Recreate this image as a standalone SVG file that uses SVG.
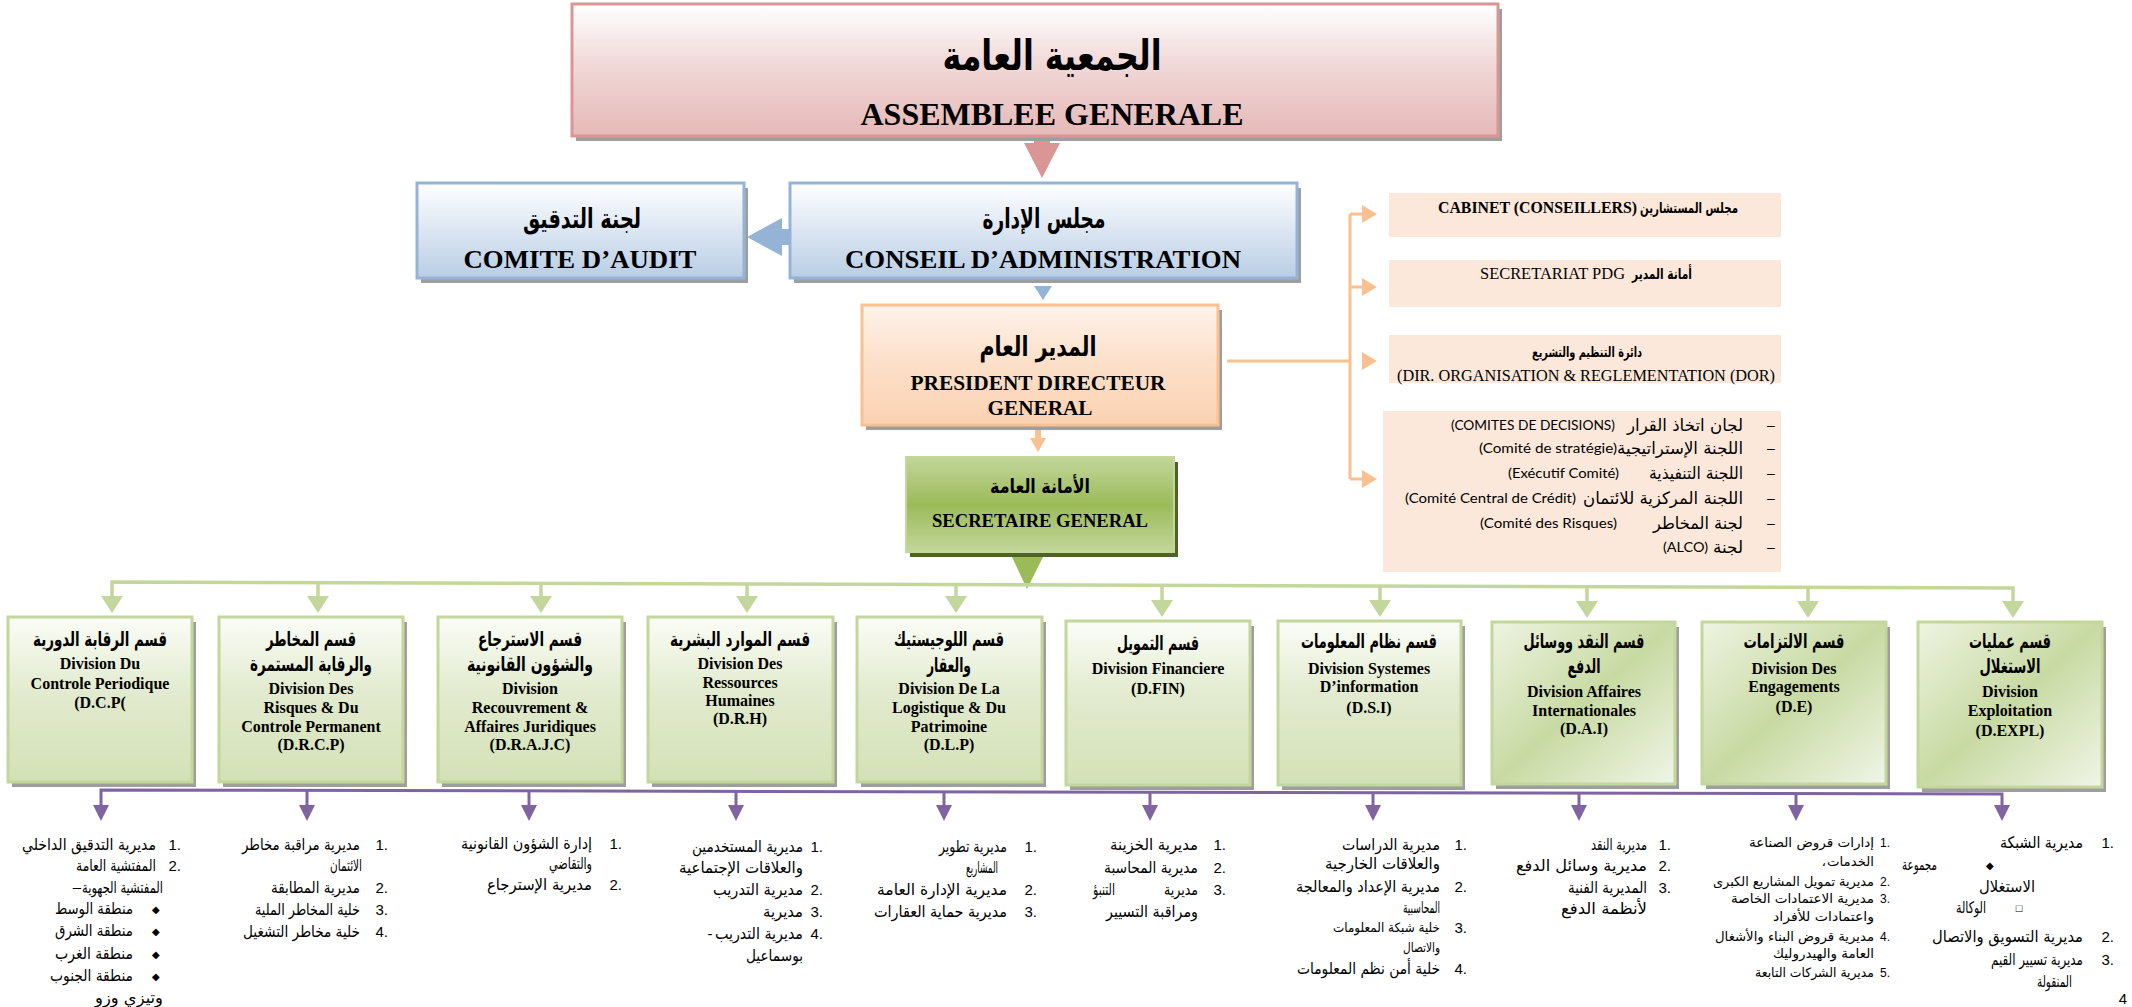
<svg xmlns="http://www.w3.org/2000/svg" width="2132" height="1007" viewBox="0 0 2132 1007">
<defs>
  <linearGradient id="gPink" x1="0" y1="0" x2="0" y2="1">
    <stop offset="0" stop-color="#ffffff"/><stop offset="0.45" stop-color="#f1d9d8"/><stop offset="1" stop-color="#e5b9b7"/>
  </linearGradient>
  <linearGradient id="gBlue" x1="0" y1="0" x2="0" y2="1">
    <stop offset="0" stop-color="#ffffff"/><stop offset="0.5" stop-color="#dce6f2"/><stop offset="1" stop-color="#b9cde5"/>
  </linearGradient>
  <linearGradient id="gPeach" x1="0" y1="0" x2="0" y2="1">
    <stop offset="0" stop-color="#fef2ea"/><stop offset="0.5" stop-color="#fcdfc8"/><stop offset="1" stop-color="#fbd2b2"/>
  </linearGradient>
  <linearGradient id="gSG" x1="0" y1="0" x2="0" y2="1">
    <stop offset="0" stop-color="#c3d69b"/><stop offset="0.5" stop-color="#9bbb59"/><stop offset="1" stop-color="#c3d69b"/>
  </linearGradient>
  <linearGradient id="gDiv" x1="0" y1="0" x2="0" y2="1">
    <stop offset="0" stop-color="#fbfdf7"/><stop offset="0.45" stop-color="#e2ebcf"/><stop offset="1" stop-color="#d3e1b6"/>
  </linearGradient>
  <linearGradient id="gDiv2" x1="0" y1="0" x2="1" y2="1">
    <stop offset="0" stop-color="#eef4e2"/><stop offset="0.5" stop-color="#c8daa3"/><stop offset="1" stop-color="#f0f5e7"/>
  </linearGradient>
  <style>
    .shadow { fill: #9e9e9e; }
    .ar { font-family: "DejaVu Sans", sans-serif; fill: #000; }
    .arb { font-family: "DejaVu Sans", sans-serif; font-weight: bold; fill: #000; }
    .tb { font-family: "Liberation Serif", serif; font-weight: bold; fill: #000; }
    .tr { font-family: "Liberation Serif", serif; fill: #000; }
    .ls { font-family: "Liberation Sans", sans-serif; fill: #000; }
    .cal { font-family: "Lato", "Liberation Sans", sans-serif; fill: #000; }
    .divbox { stroke: #c3d69b; stroke-width: 3; }
    .side { fill: #fce8da; }
    .green { stroke: #c3d69b; stroke-width: 3.5; fill: none; }
    .greenHead { fill: #c3d69b; }
    .purple { stroke: #8064a2; stroke-width: 3; fill: none; }
    .purpleHead { fill: #8064a2; }
    .orange { stroke: #fac090; stroke-width: 3; fill: none; }
    .orangeHead { fill: #fac090; }
  </style>
</defs>

<rect width="2132" height="1007" fill="#ffffff"/>

<!-- connectors -->
<g id="connectors">
  <!-- assembly to board -->
  <polygon fill="#d99694" points="1034,136 1050,136 1050,143 1060,143 1042,178 1024,143 1034,143"/>
  <!-- board to audit committee -->
  <polygon fill="#95b3d7" points="747,237 782,218 782,229 790,229 790,245 782,245 782,256"/>
  <!-- board to CEO -->
  <polygon fill="#95b3d7" points="1034,286 1052,286 1043,300"/>
  <!-- CEO to secretary general -->
  <polygon class="orangeHead" points="1035,429 1041,429 1041,438 1046,438 1038,452 1030,438 1035,438"/>
  <!-- CEO to staff units -->
  <polyline class="orange" points="1227,361 1350,361"/>
  <polyline class="orange" points="1350,214 1350,479"/>
  <polyline class="orange" points="1350,214 1364,214"/>
  <polyline class="orange" points="1350,287 1364,287"/>
  <polyline class="orange" points="1350,479 1364,479"/>
  <polygon class="orangeHead" points="1362,205 1377,214 1362,223"/>
  <polygon class="orangeHead" points="1362,278 1377,287 1362,296"/>
  <polygon class="orangeHead" points="1362,352 1377,361 1362,370"/>
  <polygon class="orangeHead" points="1362,470 1377,479 1362,488"/>
  <!-- secretary general to divisions -->
  <polygon fill="#9bbb59" points="1012,557 1043,557 1027,589"/>
  <polyline class="green" points="112,599 112,582 2013,588 2013,603"/>
  <g class="green">
    <line x1="318" y1="583" x2="318" y2="598"/>
    <line x1="541" y1="583" x2="541" y2="598"/>
    <line x1="747" y1="584" x2="747" y2="598"/>
    <line x1="956" y1="585" x2="956" y2="598"/>
    <line x1="1162" y1="585" x2="1162" y2="602"/>
    <line x1="1380" y1="586" x2="1380" y2="602"/>
    <line x1="1587" y1="587" x2="1587" y2="603"/>
    <line x1="1808" y1="587" x2="1808" y2="603"/>
  </g>
  <g class="greenHead">
    <polygon points="101,596 123,596 112,613"/>
    <polygon points="307,596 329,596 318,613"/>
    <polygon points="530,596 552,596 541,613"/>
    <polygon points="736,596 758,596 747,613"/>
    <polygon points="945,596 967,596 956,613"/>
    <polygon points="1151,600 1173,600 1162,617"/>
    <polygon points="1369,600 1391,600 1380,617"/>
    <polygon points="1576,601 1598,601 1587,618"/>
    <polygon points="1797,601 1819,601 1808,618"/>
    <polygon points="2002,601 2024,601 2013,618"/>
  </g>
  <!-- divisions to their directorates -->
  <polyline class="purple" points="101,806 101,790 2002,794 2002,806"/>
  <g class="purple">
    <line x1="307" y1="790" x2="307" y2="806"/>
    <line x1="529" y1="791" x2="529" y2="806"/>
    <line x1="736" y1="791" x2="736" y2="806"/>
    <line x1="944" y1="792" x2="944" y2="806"/>
    <line x1="1150" y1="792" x2="1150" y2="806"/>
    <line x1="1373" y1="793" x2="1373" y2="806"/>
    <line x1="1579" y1="793" x2="1579" y2="806"/>
    <line x1="1796" y1="794" x2="1796" y2="806"/>
  </g>
  <g class="purpleHead">
    <polygon points="93,805 109,805 101,821"/>
    <polygon points="299,805 315,805 307,821"/>
    <polygon points="521,805 537,805 529,821"/>
    <polygon points="728,805 744,805 736,821"/>
    <polygon points="936,805 952,805 944,821"/>
    <polygon points="1142,805 1158,805 1150,821"/>
    <polygon points="1365,805 1381,805 1373,821"/>
    <polygon points="1571,805 1587,805 1579,821"/>
    <polygon points="1788,805 1804,805 1796,821"/>
    <polygon points="1994,805 2010,805 2002,821"/>
  </g>
</g>

<!-- general assembly -->
<g id="assemblee">
  <rect class="shadow" x="576" y="9" width="926" height="132"/>
  <rect x="572" y="4" width="926" height="132" fill="url(#gPink)" stroke="#d99694" stroke-width="3"/>
  <text class="arb" x="1052" y="70" font-size="42" text-anchor="middle" textLength="219" lengthAdjust="spacingAndGlyphs">الجمعية العامة</text>
  <text class="tb" x="1052" y="125" font-size="31" text-anchor="middle" textLength="383" lengthAdjust="spacingAndGlyphs">ASSEMBLEE GENERALE</text>
</g>

<!-- audit committee -->
<g id="comite-audit">
  <rect class="shadow" x="421" y="188" width="327" height="95"/>
  <rect x="417" y="183" width="327" height="95" fill="url(#gBlue)" stroke="#95b3d7" stroke-width="3"/>
  <text class="arb" x="582" y="228" font-size="27" text-anchor="middle" textLength="118" lengthAdjust="spacingAndGlyphs">لجنة التدقيق</text>
  <text class="tb" x="580" y="268" font-size="26" text-anchor="middle" textLength="233" lengthAdjust="spacingAndGlyphs">COMITE D’AUDIT</text>
</g>

<!-- board of directors -->
<g id="conseil-administration">
  <rect class="shadow" x="794" y="188" width="507" height="95"/>
  <rect x="790" y="183" width="507" height="95" fill="url(#gBlue)" stroke="#95b3d7" stroke-width="3"/>
  <text class="arb" x="1044" y="228" font-size="27" text-anchor="middle" textLength="123" lengthAdjust="spacingAndGlyphs">مجلس الإدارة</text>
  <text class="tb" x="1043" y="268" font-size="26" text-anchor="middle" textLength="396" lengthAdjust="spacingAndGlyphs">CONSEIL D’ADMINISTRATION</text>
</g>

<!-- chief executive -->
<g id="pdg">
  <rect class="shadow" x="866" y="310" width="356" height="120"/>
  <rect x="862" y="305" width="356" height="120" fill="url(#gPeach)" stroke="#fac090" stroke-width="3"/>
  <text class="arb" x="1038" y="356" font-size="27" text-anchor="middle" textLength="117" lengthAdjust="spacingAndGlyphs">المدير العام</text>
  <text class="tb" x="1038" y="390" font-size="21" text-anchor="middle" textLength="255" lengthAdjust="spacingAndGlyphs">PRESIDENT DIRECTEUR</text>
  <text class="tb" x="1040" y="415" font-size="21" text-anchor="middle" textLength="105" lengthAdjust="spacingAndGlyphs">GENERAL</text>
</g>

<!-- secretary general -->
<g id="secretaire-general">
  <rect x="910" y="462" width="268" height="95" fill="#4f6228"/>
  <rect x="906" y="457" width="268" height="95" fill="url(#gSG)" stroke="#c3d69b" stroke-width="2"/>
  <text class="arb" x="1040" y="493" font-size="20" text-anchor="middle" textLength="100" lengthAdjust="spacingAndGlyphs">الأمانة العامة</text>
  <text class="tb" x="1040" y="527" font-size="19" text-anchor="middle" textLength="216" lengthAdjust="spacingAndGlyphs">SECRETAIRE GENERAL</text>
</g>

<!-- staff units attached to the CEO -->
<g id="cabinet">
  <rect class="side" x="1389" y="193" width="392" height="44"/>
  <text class="tb" x="1438" y="213" font-size="16" textLength="199" lengthAdjust="spacingAndGlyphs">CABINET (CONSEILLERS)</text>
  <text class="arb" x="1738" y="213" font-size="15" text-anchor="end" textLength="98" lengthAdjust="spacingAndGlyphs">مجلس المستشارين</text>
</g>
<g id="secretariat-pdg">
  <rect class="side" x="1389" y="260" width="392" height="47"/>
  <text class="tr" x="1480" y="279" font-size="16" textLength="145" lengthAdjust="spacingAndGlyphs">SECRETARIAT PDG</text>
  <text class="arb" x="1692" y="279" font-size="15" text-anchor="end" textLength="60" lengthAdjust="spacingAndGlyphs">أمانة المدير</text>
</g>
<g id="dor">
  <rect class="side" x="1389" y="335" width="392" height="48"/>
  <text class="arb" x="1587" y="357" font-size="14" text-anchor="middle" textLength="110" lengthAdjust="spacingAndGlyphs">دائرة التنظيم والتشريع</text>
  <text class="tr" x="1397" y="381" font-size="16" textLength="378" lengthAdjust="spacingAndGlyphs">(DIR. ORGANISATION &amp; REGLEMENTATION (DOR)</text>
</g>
<g id="comites">
  <rect class="side" x="1383" y="411" width="398" height="161"/>
  <g class="ls" font-size="14" text-anchor="middle">
    <text x="1771" y="430">–</text>
    <text x="1771" y="453">–</text>
    <text x="1771" y="478">–</text>
    <text x="1771" y="503">–</text>
    <text x="1771" y="528">–</text>
    <text x="1771" y="552">–</text>
  </g>
  <g class="ar" font-size="17" text-anchor="end">
    <text x="1743" y="431" textLength="116" lengthAdjust="spacingAndGlyphs">لجان اتخاذ القرار</text>
    <text x="1743" y="454" textLength="126" lengthAdjust="spacingAndGlyphs">اللجنة الإستراتيجية</text>
    <text x="1743" y="479" textLength="94" lengthAdjust="spacingAndGlyphs">اللجنة التنفيذية</text>
    <text x="1743" y="504" textLength="160" lengthAdjust="spacingAndGlyphs">اللجنة المركزية للائتمان</text>
    <text x="1743" y="529" textLength="90" lengthAdjust="spacingAndGlyphs">لجنة المخاطر</text>
    <text x="1743" y="553" textLength="30" lengthAdjust="spacingAndGlyphs">لجنة</text>
  </g>
  <g class="cal" font-size="14">
    <text x="1451" y="430" textLength="164" lengthAdjust="spacingAndGlyphs">(COMITES DE DECISIONS)</text>
    <text x="1479" y="453" textLength="138" lengthAdjust="spacingAndGlyphs">(Comité de stratégie)</text>
    <text x="1508" y="478" textLength="111" lengthAdjust="spacingAndGlyphs">(Exécutif Comité)</text>
    <text x="1405" y="503" textLength="171" lengthAdjust="spacingAndGlyphs">(Comité Central de Crédit)</text>
    <text x="1480" y="528" textLength="137" lengthAdjust="spacingAndGlyphs">(Comité des Risques)</text>
    <text x="1663" y="552" textLength="45" lengthAdjust="spacingAndGlyphs">(ALCO)</text>
  </g>
</g>

<!-- divisions -->
<g id="div-dcp">
  <rect class="shadow" x="12" y="622" width="184" height="165"/>
  <rect class="divbox" x="8" y="617" width="184" height="165" fill="url(#gDiv)"/>
  <text class="arb" x="100" y="646" font-size="20" text-anchor="middle" textLength="134" lengthAdjust="spacingAndGlyphs">قسم الرقابة الدورية</text>
  <g class="tb" font-size="16" text-anchor="middle">
    <text x="100" y="669">Division Du</text>
    <text x="100" y="689">Controle Periodique</text>
    <text x="100" y="708">(D.C.P(</text>
  </g>
</g>
<g id="div-drcp">
  <rect class="shadow" x="223" y="622" width="184" height="165"/>
  <rect class="divbox" x="219" y="617" width="184" height="165" fill="url(#gDiv)"/>
  <text class="arb" x="311" y="646" font-size="20" text-anchor="middle" textLength="90" lengthAdjust="spacingAndGlyphs">قسم المخاطر</text>
  <text class="arb" x="311" y="671" font-size="20" text-anchor="middle" textLength="122" lengthAdjust="spacingAndGlyphs">والرقابة المستمرة</text>
  <g class="tb" font-size="16" text-anchor="middle">
    <text x="311" y="694">Division Des</text>
    <text x="311" y="713">Risques &amp; Du</text>
    <text x="311" y="732">Controle Permanent</text>
    <text x="311" y="750">(D.R.C.P)</text>
  </g>
</g>
<g id="div-drajc">
  <rect class="shadow" x="442" y="622" width="184" height="165"/>
  <rect class="divbox" x="438" y="617" width="184" height="165" fill="url(#gDiv)"/>
  <text class="arb" x="530" y="646" font-size="20" text-anchor="middle" textLength="104" lengthAdjust="spacingAndGlyphs">قسم الاسترجاع</text>
  <text class="arb" x="530" y="671" font-size="20" text-anchor="middle" textLength="126" lengthAdjust="spacingAndGlyphs">والشؤون القانونية</text>
  <g class="tb" font-size="16" text-anchor="middle">
    <text x="530" y="694">Division</text>
    <text x="530" y="713">Recouvrement &amp;</text>
    <text x="530" y="732">Affaires Juridiques</text>
    <text x="530" y="750">(D.R.A.J.C)</text>
  </g>
</g>
<g id="div-drh">
  <rect class="shadow" x="652" y="622" width="185" height="165"/>
  <rect class="divbox" x="648" y="617" width="185" height="165" fill="url(#gDiv)"/>
  <text class="arb" x="740" y="646" font-size="20" text-anchor="middle" textLength="140" lengthAdjust="spacingAndGlyphs">قسم الموارد البشرية</text>
  <g class="tb" font-size="16" text-anchor="middle">
    <text x="740" y="669">Division Des</text>
    <text x="740" y="688">Ressources</text>
    <text x="740" y="706">Humaines</text>
    <text x="740" y="724">(D.R.H)</text>
  </g>
</g>
<g id="div-dlp">
  <rect class="shadow" x="861" y="622" width="185" height="165"/>
  <rect class="divbox" x="857" y="617" width="185" height="165" fill="url(#gDiv)"/>
  <text class="arb" x="949" y="646" font-size="20" text-anchor="middle" textLength="110" lengthAdjust="spacingAndGlyphs">قسم اللوجيستيك</text>
  <text class="arb" x="949" y="672" font-size="20" text-anchor="middle" textLength="44" lengthAdjust="spacingAndGlyphs">والعقار</text>
  <g class="tb" font-size="16" text-anchor="middle">
    <text x="949" y="694">Division De La</text>
    <text x="949" y="713">Logistique &amp; Du</text>
    <text x="949" y="732">Patrimoine</text>
    <text x="949" y="750">(D.L.P)</text>
  </g>
</g>
<g id="div-dfin">
  <rect class="shadow" x="1070" y="626" width="184" height="164"/>
  <rect class="divbox" x="1066" y="621" width="184" height="164" fill="url(#gDiv)"/>
  <text class="arb" x="1158" y="650" font-size="20" text-anchor="middle" textLength="82" lengthAdjust="spacingAndGlyphs">قسم التمويل</text>
  <g class="tb" font-size="16" text-anchor="middle">
    <text x="1158" y="674">Division Financiere</text>
    <text x="1158" y="694">(D.FIN)</text>
  </g>
</g>
<g id="div-dsi">
  <rect class="shadow" x="1282" y="626" width="183" height="164"/>
  <rect class="divbox" x="1278" y="621" width="183" height="164" fill="url(#gDiv)"/>
  <text class="arb" x="1369" y="648" font-size="20" text-anchor="middle" textLength="136" lengthAdjust="spacingAndGlyphs">قسم نظام المعلومات</text>
  <g class="tb" font-size="16" text-anchor="middle">
    <text x="1369" y="674">Division Systemes</text>
    <text x="1369" y="692">D’information</text>
    <text x="1369" y="713">(D.S.I)</text>
  </g>
</g>
<g id="div-dai">
  <rect class="shadow" x="1496" y="627" width="183" height="162"/>
  <rect class="divbox" x="1492" y="622" width="183" height="162" fill="url(#gDiv2)"/>
  <text class="arb" x="1584" y="648" font-size="20" text-anchor="middle" textLength="121" lengthAdjust="spacingAndGlyphs">قسم النقد ووسائل</text>
  <text class="arb" x="1584" y="673" font-size="20" text-anchor="middle" textLength="33" lengthAdjust="spacingAndGlyphs">الدفع</text>
  <g class="tb" font-size="16" text-anchor="middle">
    <text x="1584" y="697">Division Affaires</text>
    <text x="1584" y="716">Internationales</text>
    <text x="1584" y="734">(D.A.I)</text>
  </g>
</g>
<g id="div-de">
  <rect class="shadow" x="1706" y="627" width="184" height="162"/>
  <rect class="divbox" x="1702" y="622" width="184" height="162" fill="url(#gDiv2)"/>
  <text class="arb" x="1794" y="648" font-size="20" text-anchor="middle" textLength="101" lengthAdjust="spacingAndGlyphs">قسم الالتزامات</text>
  <g class="tb" font-size="16" text-anchor="middle">
    <text x="1794" y="674">Division Des</text>
    <text x="1794" y="692">Engagements</text>
    <text x="1794" y="712">(D.E)</text>
  </g>
</g>
<g id="div-dexpl">
  <rect class="shadow" x="1922" y="627" width="184" height="165"/>
  <rect class="divbox" x="1918" y="622" width="184" height="165" fill="url(#gDiv2)"/>
  <text class="arb" x="2010" y="648" font-size="20" text-anchor="middle" textLength="82" lengthAdjust="spacingAndGlyphs">قسم عمليات</text>
  <text class="arb" x="2010" y="673" font-size="20" text-anchor="middle" textLength="61" lengthAdjust="spacingAndGlyphs">الاستغلال</text>
  <g class="tb" font-size="16" text-anchor="middle">
    <text x="2010" y="697">Division</text>
    <text x="2010" y="716">Exploitation</text>
    <text x="2010" y="736">(D.EXPL)</text>
  </g>
</g>

<!-- directorates under each division -->
<g id="list-dcp">
  <g class="ls" font-size="15" text-anchor="end">
    <text x="181" y="850">1.</text>
    <text x="181" y="871">2.</text>
  </g>
  <g class="ar" font-size="16" text-anchor="end">
    <text x="156" y="850" textLength="134" lengthAdjust="spacingAndGlyphs">مديرية التدقيق الداخلي</text>
    <text x="156" y="871" textLength="80" lengthAdjust="spacingAndGlyphs">المفتشية العامة</text>
    <text x="163" y="893" textLength="81" lengthAdjust="spacingAndGlyphs">المفتشية الجهوية</text>
    <text x="133" y="914" textLength="78" lengthAdjust="spacingAndGlyphs">منطقة الوسط</text>
    <text x="133" y="936" textLength="78" lengthAdjust="spacingAndGlyphs">منطقة الشرق</text>
    <text x="133" y="959" textLength="78" lengthAdjust="spacingAndGlyphs">منطقة الغرب</text>
    <text x="133" y="981" textLength="83" lengthAdjust="spacingAndGlyphs">منطقة الجنوب</text>
    <text x="163" y="1003" textLength="68" lengthAdjust="spacingAndGlyphs">وتيزي وزو</text>
  </g>
  <text class="ls" x="77" y="892" font-size="15" text-anchor="middle">–</text>
  <g class="ls" font-size="10" text-anchor="middle">
    <text x="156" y="913">◆</text>
    <text x="156" y="935">◆</text>
    <text x="156" y="958">◆</text>
    <text x="156" y="980">◆</text>
  </g>
</g>
<g id="list-drcp">
  <g class="ls" font-size="15" text-anchor="end">
    <text x="388" y="850">1.</text>
    <text x="388" y="893">2.</text>
    <text x="388" y="915">3.</text>
    <text x="388" y="937">4.</text>
  </g>
  <g class="ar" font-size="16" text-anchor="end">
    <text x="360" y="850" textLength="118" lengthAdjust="spacingAndGlyphs">مديرية مراقبة مخاطر</text>
    <text x="362" y="871" textLength="32" lengthAdjust="spacingAndGlyphs">الائتمان</text>
    <text x="360" y="893" textLength="89" lengthAdjust="spacingAndGlyphs">مديرية المطابقة</text>
    <text x="360" y="915" textLength="105" lengthAdjust="spacingAndGlyphs">خلية المخاطر الملية</text>
    <text x="360" y="937" textLength="117" lengthAdjust="spacingAndGlyphs">خلية مخاطر التشغيل</text>
  </g>
</g>
<g id="list-drajc">
  <g class="ls" font-size="15" text-anchor="end">
    <text x="622" y="849">1.</text>
    <text x="622" y="890">2.</text>
  </g>
  <g class="ar" font-size="16" text-anchor="end">
    <text x="592" y="849" textLength="131" lengthAdjust="spacingAndGlyphs">إدارة الشؤون القانونية</text>
    <text x="592" y="869" textLength="43" lengthAdjust="spacingAndGlyphs">والتقاضي</text>
    <text x="592" y="890" textLength="105" lengthAdjust="spacingAndGlyphs">مديرية الإسترجاع</text>
  </g>
</g>
<g id="list-drh">
  <g class="ls" font-size="15" text-anchor="end">
    <text x="823" y="852">1.</text>
    <text x="823" y="895">2.</text>
    <text x="823" y="917">3.</text>
    <text x="823" y="939">4.</text>
  </g>
  <g class="ar" font-size="16" text-anchor="end">
    <text x="803" y="852" textLength="111" lengthAdjust="spacingAndGlyphs">مديرية المستخدمين</text>
    <text x="803" y="873" textLength="124" lengthAdjust="spacingAndGlyphs">والعلاقات الإجتماعية</text>
    <text x="803" y="895" textLength="90" lengthAdjust="spacingAndGlyphs">مديرية التدريب</text>
    <text x="803" y="917" textLength="40" lengthAdjust="spacingAndGlyphs">مديرية</text>
    <text x="803" y="939" textLength="88" lengthAdjust="spacingAndGlyphs">مديرية التدريب</text>
    <text x="803" y="961" textLength="57" lengthAdjust="spacingAndGlyphs">بوسماعيل</text>
  </g>
  <text class="ls" x="710" y="939" font-size="15" text-anchor="middle">-</text>
</g>
<g id="list-dlp">
  <g class="ls" font-size="15" text-anchor="end">
    <text x="1037" y="852">1.</text>
    <text x="1037" y="895">2.</text>
    <text x="1037" y="917">3.</text>
  </g>
  <g class="ar" font-size="16" text-anchor="end">
    <text x="1007" y="852" textLength="68" lengthAdjust="spacingAndGlyphs">مديرية تطوير</text>
    <text x="998" y="873" textLength="32" lengthAdjust="spacingAndGlyphs">المشاريع</text>
    <text x="1007" y="895" textLength="130" lengthAdjust="spacingAndGlyphs">مديرية الإدارة العامة</text>
    <text x="1007" y="917" textLength="133" lengthAdjust="spacingAndGlyphs">مديرية حماية العقارات</text>
  </g>
</g>
<g id="list-dfin">
  <g class="ls" font-size="15" text-anchor="end">
    <text x="1226" y="850">1.</text>
    <text x="1226" y="873">2.</text>
    <text x="1226" y="895">3.</text>
  </g>
  <g class="ar" font-size="16" text-anchor="end">
    <text x="1198" y="850" textLength="88" lengthAdjust="spacingAndGlyphs">مديرية الخزينة</text>
    <text x="1198" y="873" textLength="94" lengthAdjust="spacingAndGlyphs">مديرية المحاسبة</text>
    <text x="1198" y="895" textLength="34" lengthAdjust="spacingAndGlyphs">مديرية</text>
    <text x="1115" y="895" textLength="22" lengthAdjust="spacingAndGlyphs">التنبؤ</text>
    <text x="1198" y="917" textLength="92" lengthAdjust="spacingAndGlyphs">ومراقبة التسيير</text>
  </g>
</g>
<g id="list-dsi">
  <g class="ls" font-size="15" text-anchor="end">
    <text x="1467" y="850">1.</text>
    <text x="1467" y="892">2.</text>
    <text x="1467" y="933">3.</text>
    <text x="1467" y="974">4.</text>
  </g>
  <g class="ar" font-size="16" text-anchor="end">
    <text x="1440" y="850" textLength="98" lengthAdjust="spacingAndGlyphs">مديرية الدراسات</text>
    <text x="1440" y="869" textLength="115" lengthAdjust="spacingAndGlyphs">والعلاقات الخارجية</text>
    <text x="1440" y="892" textLength="144" lengthAdjust="spacingAndGlyphs">مديرية الإعداد والمعالجة</text>
    <text x="1440" y="913" textLength="37" lengthAdjust="spacingAndGlyphs">المحاسبية</text>
    <text x="1440" y="932" font-size="13" textLength="107" lengthAdjust="spacingAndGlyphs">خلية شبكة المعلومات</text>
    <text x="1440" y="952" font-size="13" textLength="37" lengthAdjust="spacingAndGlyphs">والاتصال</text>
    <text x="1440" y="974" textLength="143" lengthAdjust="spacingAndGlyphs">خلية أمن نظم المعلومات</text>
  </g>
</g>
<g id="list-dai">
  <g class="ls" font-size="15" text-anchor="end">
    <text x="1671" y="850">1.</text>
    <text x="1671" y="871">2.</text>
    <text x="1671" y="893">3.</text>
  </g>
  <g class="ar" font-size="16" text-anchor="end">
    <text x="1647" y="850" textLength="56" lengthAdjust="spacingAndGlyphs">مديرية النقد</text>
    <text x="1647" y="871" textLength="131" lengthAdjust="spacingAndGlyphs">مديرية وسائل الدفع</text>
    <text x="1647" y="893" textLength="79" lengthAdjust="spacingAndGlyphs">المديرية الفنية</text>
    <text x="1647" y="914" textLength="86" lengthAdjust="spacingAndGlyphs">لأنظمة الدفع</text>
  </g>
</g>
<g id="list-de">
  <g class="ls" font-size="12" text-anchor="end">
    <text x="1890" y="847">1.</text>
    <text x="1890" y="886">2.</text>
    <text x="1890" y="903">3.</text>
    <text x="1890" y="941">4.</text>
    <text x="1890" y="977">5.</text>
  </g>
  <g class="ar" font-size="13" text-anchor="end">
    <text x="1874" y="847" textLength="125" lengthAdjust="spacingAndGlyphs">إدارات قروض الصناعة</text>
    <text x="1874" y="866" textLength="47" lengthAdjust="spacingAndGlyphs">الخدمات</text>
    <text x="1874" y="886" textLength="161" lengthAdjust="spacingAndGlyphs">مديرية تمويل المشاريع الكبرى</text>
    <text x="1874" y="903" textLength="143" lengthAdjust="spacingAndGlyphs">مديرية الاعتمادات الخاصة</text>
    <text x="1874" y="921" textLength="101" lengthAdjust="spacingAndGlyphs">واعتمادات للأفراد</text>
    <text x="1874" y="941" textLength="159" lengthAdjust="spacingAndGlyphs">مديرية قروض البناء والأشغال</text>
    <text x="1874" y="958" textLength="101" lengthAdjust="spacingAndGlyphs">العامة والهيدروليك</text>
    <text x="1874" y="977" textLength="119" lengthAdjust="spacingAndGlyphs">مديرية الشركات التابعة</text>
    <text x="1826" y="866">،</text>
  </g>
</g>
<g id="list-dexpl">
  <g class="ls" font-size="15" text-anchor="end">
    <text x="2114" y="848">1.</text>
    <text x="2114" y="942">2.</text>
    <text x="2114" y="965">3.</text>
    <text x="2127" y="1004">4</text>
  </g>
  <g class="ar" font-size="16" text-anchor="end">
    <text x="2083" y="848" textLength="83" lengthAdjust="spacingAndGlyphs">مديرية الشبكة</text>
    <text x="1937" y="870" textLength="35" lengthAdjust="spacingAndGlyphs">مجموعة</text>
    <text x="2035" y="892" textLength="56" lengthAdjust="spacingAndGlyphs">الاستغلال</text>
    <text x="1986" y="913" textLength="30" lengthAdjust="spacingAndGlyphs">الوكالة</text>
    <text x="2083" y="942" textLength="151" lengthAdjust="spacingAndGlyphs">مديرية التسويق والاتصال</text>
    <text x="2083" y="965" textLength="92" lengthAdjust="spacingAndGlyphs">مديرية تسيير القيم</text>
    <text x="2072" y="987" textLength="35" lengthAdjust="spacingAndGlyphs">المنقولة</text>
  </g>
  <text class="ls" x="1990" y="869" font-size="10" text-anchor="middle">◆</text>
  <text class="ls" x="2019" y="912" font-size="11" text-anchor="middle">□</text>
</g>
</svg>
